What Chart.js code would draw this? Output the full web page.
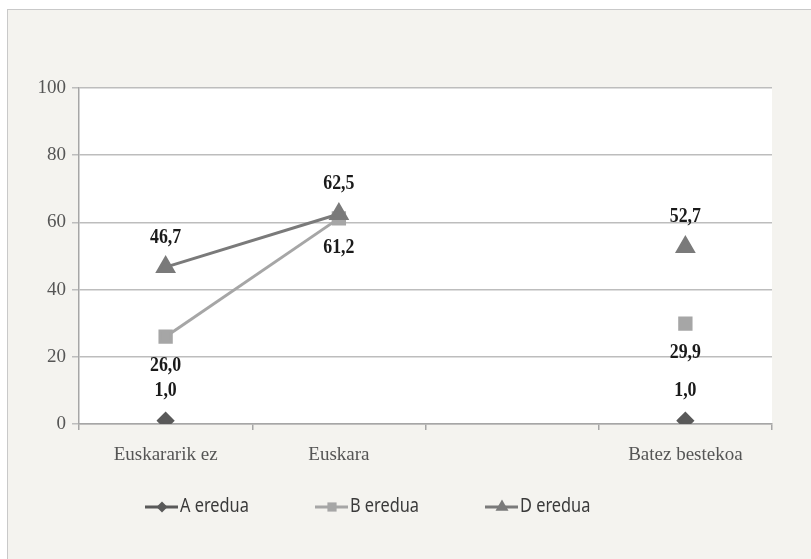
<!DOCTYPE html>
<html>
<head>
<meta charset="utf-8">
<script src="https://cdn.jsdelivr.net/npm/chart.js@4.4.1/dist/chart.umd.min.js"></script>
<style>
html, body { margin: 0; padding: 0; background: #fff; overflow: hidden; }
#frame { position: absolute; left: 7px; top: 9px; width: 820px; height: 560px; background: #f4f3ef; border-left: 1px solid #c9c9c9; border-top: 1px solid #c9c9c9; }
#wrap { position: absolute; left: 0; top: 0; width: 811px; height: 559px; }
</style>
</head>
<body>
<div id="frame"></div>
<div id="wrap"><canvas id="eredua" width="811" height="559"></canvas></div>
<script>
const categories = ['Euskararik ez', 'Euskara', '', 'Batez bestekoa'];
const aEredua = [1.0, null, null, 1.0];
const bEredua = [26.0, 61.2, null, 29.9];
const dEredua = [46.7, 62.5, null, 52.7];
const yTicks = [0, 20, 40, 60, 80, 100];

const serif = '"Liberation Serif", "DejaVu Serif", serif';

// white plot area on the beige card
const plotBg = {
    id: 'plotBg',
    beforeDraw(chart) {
        const { ctx, chartArea: a } = chart;
        ctx.save();
        ctx.fillStyle = '#ffffff';
        ctx.fillRect(a.left, a.top, a.right - a.left, a.bottom - a.top);
        ctx.restore();
    }
};

// narrow text: squeeze horizontally around the anchor
function narrowText(ctx, text, x, y, sx) {
    ctx.save();
    ctx.translate(x, y);
    ctx.scale(sx, 1);
    ctx.fillText(text, 0, 0);
    ctx.restore();
}

// value labels, comma decimals; B under its marker, the others above
const valueLabels = {
    id: 'valueLabels',
    afterDatasetsDraw(chart) {
        const ctx = chart.ctx;
        ctx.save();
        ctx.font = 'bold 21px ' + serif;
        ctx.fillStyle = '#1a1a1a';
        ctx.textAlign = 'center';
        ctx.textBaseline = 'middle';
        chart.data.datasets.forEach((ds, i) => {
            const meta = chart.getDatasetMeta(i);
            meta.data.forEach((pt, j) => {
                const v = ds.data[j];
                if (v === null) return;
                const dy = ds.labelBelow ? 29 : -30;
                narrowText(ctx, v.toFixed(1).replace('.', ','), pt.x, pt.y + dy, 0.85);
            });
        });
        ctx.restore();
    }
};

// legend drawn as line + marker + text, like the office chart legend
const lineLegend = {
    id: 'lineLegend',
    afterDraw(chart) {
        const ctx = chart.ctx;
        const y = 507;
        let x = 145;
        ctx.save();
        ctx.font = '19px "Noto Sans", sans-serif';
        ctx.textBaseline = 'middle';
        chart.data.datasets.forEach(ds => {
            ctx.strokeStyle = ds.borderColor;
            ctx.lineWidth = 3;
            ctx.beginPath();
            ctx.moveTo(x, y);
            ctx.lineTo(x + 33, y);
            ctx.stroke();
            ctx.fillStyle = ds.backgroundColor;
            Chart.helpers.drawPoint(ctx, {
                pointStyle: ds.pointStyle,
                radius: ds.pointRadius - 1.5,
                borderWidth: 0
            }, x + 17, y);
            ctx.fillStyle = '#3a3a3a';
            narrowText(ctx, ds.label, x + 35, y, 0.86);
            x += 170;
        });
        ctx.restore();
    }
};

const ctx = document.getElementById('eredua').getContext('2d');
new Chart(ctx, {
    type: 'line',
    data: {
        labels: categories,
        datasets: [{
            label: 'A eredua',
            data: aEredua,
            borderColor: '#595959',
            backgroundColor: '#595959',
            pointStyle: 'rectRot',
            pointRadius: 7,
            borderWidth: 3,
            order: 2
        }, {
            label: 'B eredua',
            data: bEredua,
            borderColor: '#a6a6a6',
            backgroundColor: '#a6a6a6',
            pointStyle: 'rect',
            pointRadius: 8,
            borderWidth: 3,
            labelBelow: true,
            order: 1
        }, {
            label: 'D eredua',
            data: dEredua,
            borderColor: '#7a7a7a',
            backgroundColor: '#7a7a7a',
            pointStyle: 'triangle',
            pointRadius: 9,
            borderWidth: 3,
            order: 0
        }]
    },
    options: {
        responsive: false,
        animation: false,
        layout: { padding: { top: 88, right: 39, bottom: 95, left: 0 } },
        elements: { point: { borderWidth: 0 } },
        plugins: {
            legend: { display: false },
            tooltip: { enabled: false }
        },
        scales: {
            x: {
                offset: true,
                afterFit: s => { s.height = 40; },
                grid: { offset: true, drawOnChartArea: false, tickLength: 6, color: '#a6a6a6', lineWidth: 1.5 },
                border: { color: '#a6a6a6', width: 1.5 },
                ticks: { font: { family: serif, size: 19 }, color: '#555555', padding: 14 }
            },
            y: {
                min: 0,
                max: 100,
                afterFit: s => { s.width = 79; },
                afterBuildTicks: s => { s.ticks = yTicks.map(v => ({ value: v })); },
                grid: { color: '#bdbdbd', lineWidth: 1.5, tickLength: 7 },
                border: { color: '#a6a6a6', width: 1.5 },
                ticks: { font: { family: serif, size: 19 }, color: '#555555', padding: 6 }
            }
        }
    },
    plugins: [plotBg, valueLabels, lineLegend]
});
</script>
</body>
</html>
